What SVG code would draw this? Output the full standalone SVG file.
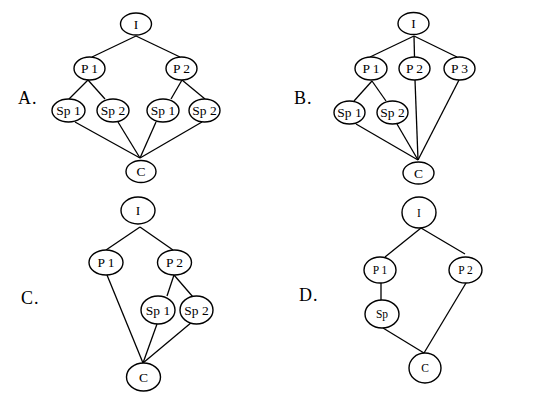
<svg xmlns="http://www.w3.org/2000/svg" width="544" height="403" viewBox="0 0 544 403">
<style>
.n ellipse{fill:#fff;stroke:#000;stroke-width:1.4}
.n text{font-family:"Liberation Serif","Times New Roman",serif;font-size:13.5px;text-anchor:middle;fill:#000}
.d text{font-size:11.5px}
.e line{stroke:#000;stroke-width:1.3}
.lab{font-family:"Liberation Serif","Times New Roman",serif;font-size:18px;fill:#000;letter-spacing:1px}
</style>
<rect width="544" height="403" fill="#fff"/>
<g id="connectors" class="e">
<!-- A -->
<line x1="136" y1="36" x2="92" y2="57"/>
<line x1="136" y1="36" x2="180" y2="57"/>
<line x1="88" y1="80" x2="69" y2="99"/>
<line x1="88" y1="80" x2="105" y2="99"/>
<line x1="182" y1="80" x2="171" y2="99"/>
<line x1="182" y1="80" x2="205" y2="99"/>
<line x1="75" y1="122" x2="140" y2="158"/>
<line x1="118" y1="122" x2="140" y2="158"/>
<line x1="156" y1="122" x2="140" y2="158"/>
<line x1="202" y1="122" x2="140" y2="158"/>
<!-- B -->
<line x1="414" y1="36" x2="370" y2="57"/>
<line x1="414" y1="36" x2="414.5" y2="57"/>
<line x1="414" y1="36" x2="457" y2="57"/>
<line x1="372" y1="81" x2="354" y2="101"/>
<line x1="372" y1="81" x2="386" y2="101"/>
<line x1="356" y1="124" x2="418" y2="160"/>
<line x1="397" y1="124" x2="418" y2="160"/>
<line x1="415" y1="80" x2="418" y2="160"/>
<line x1="459" y1="80" x2="418" y2="160"/>
<!-- C -->
<line x1="140" y1="227" x2="106" y2="250"/>
<line x1="140" y1="227" x2="173" y2="250"/>
<line x1="107" y1="275" x2="143" y2="363"/>
<line x1="174" y1="275" x2="167" y2="296"/>
<line x1="174" y1="275" x2="193" y2="297"/>
<line x1="157" y1="324" x2="143" y2="363"/>
<line x1="192" y1="322" x2="143" y2="363"/>
<!-- D -->
<line x1="421" y1="228" x2="385" y2="257"/>
<line x1="421" y1="228" x2="465" y2="254"/>
<line x1="381" y1="283" x2="381" y2="300"/>
<line x1="383" y1="328" x2="424" y2="353"/>
<line x1="466" y1="283" x2="424" y2="353"/>
</g>
<text class="lab" x="18" y="104">A.</text>
<text class="lab" x="294" y="104">B.</text>
<text class="lab" x="21" y="304">C.</text>
<text class="lab" x="299" y="301">D.</text>
<!-- Panel A -->
<g id="A_I" class="n"><ellipse cx="136" cy="24" rx="15.5" ry="11"/><text x="136" y="28.5">I</text></g>
<g id="A_P1" class="n"><ellipse cx="89.5" cy="68.5" rx="15.5" ry="11.5"/><text x="89.5" y="73">P 1</text></g>
<g id="A_P2" class="n"><ellipse cx="181.5" cy="68.5" rx="15.5" ry="11.5"/><text x="181.5" y="73">P 2</text></g>
<g id="A_Sp1a" class="n"><ellipse cx="68.5" cy="110.5" rx="16.5" ry="11.5"/><text x="68.5" y="115">Sp 1</text></g>
<g id="A_Sp2a" class="n"><ellipse cx="113" cy="110.5" rx="16" ry="11.5"/><text x="113" y="115">Sp 2</text></g>
<g id="A_Sp1b" class="n"><ellipse cx="163" cy="110.5" rx="16" ry="11.5"/><text x="163" y="115">Sp 1</text></g>
<g id="A_Sp2b" class="n"><ellipse cx="204.5" cy="110.5" rx="15.5" ry="11.5"/><text x="204.5" y="115">Sp 2</text></g>
<g id="A_C" class="n"><ellipse cx="141" cy="171.5" rx="15" ry="11"/><text x="141" y="176">C</text></g>
<!-- Panel B -->
<g id="B_I" class="n"><ellipse cx="413.5" cy="23.5" rx="15.5" ry="11"/><text x="413.5" y="28">I</text></g>
<g id="B_P1" class="n"><ellipse cx="371" cy="68.5" rx="16" ry="11.5"/><text x="371" y="73">P 1</text></g>
<g id="B_P2" class="n"><ellipse cx="414.5" cy="68.5" rx="15.5" ry="11.5"/><text x="414.5" y="73">P 2</text></g>
<g id="B_P3" class="n"><ellipse cx="459.5" cy="68.5" rx="15.5" ry="11.5"/><text x="459.5" y="73">P 3</text></g>
<g id="B_Sp1" class="n"><ellipse cx="349.5" cy="112.5" rx="15.5" ry="11.5"/><text x="349.5" y="117">Sp 1</text></g>
<g id="B_Sp2" class="n"><ellipse cx="392.5" cy="112.5" rx="15.5" ry="11.5"/><text x="392.5" y="117">Sp 2</text></g>
<g id="B_C" class="n"><ellipse cx="418.5" cy="173" rx="15.5" ry="11"/><text x="418.5" y="177.5">C</text></g>
<!-- Panel C -->
<g id="C_I" class="n"><ellipse cx="138" cy="210.5" rx="17" ry="13.5"/><text x="138" y="215">I</text></g>
<g id="C_P1" class="n"><ellipse cx="106" cy="262.5" rx="17" ry="12.5"/><text x="106" y="267">P 1</text></g>
<g id="C_P2" class="n"><ellipse cx="174.5" cy="262.5" rx="17" ry="12.5"/><text x="174.5" y="267">P 2</text></g>
<g id="C_Sp1" class="n"><ellipse cx="158" cy="310" rx="17" ry="14"/><text x="158" y="314.5">Sp 1</text></g>
<g id="C_Sp2" class="n"><ellipse cx="196.5" cy="310" rx="16.5" ry="14"/><text x="196.5" y="314.5">Sp 2</text></g>
<g id="C_C" class="n"><ellipse cx="143.5" cy="377" rx="17" ry="14"/><text x="143.5" y="381.5">C</text></g>
<!-- Panel D -->
<g id="D_I" class="n d"><ellipse cx="419" cy="212.5" rx="17" ry="15.5"/><text x="419" y="216.5">I</text></g>
<g id="D_P1" class="n d"><ellipse cx="380" cy="270" rx="16" ry="13"/><text x="380" y="274">P 1</text></g>
<g id="D_P2" class="n d"><ellipse cx="465.5" cy="270" rx="16.5" ry="13"/><text x="465.5" y="274">P 2</text></g>
<g id="D_Sp" class="n d"><ellipse cx="382" cy="314" rx="17" ry="14"/><text x="382" y="318">Sp</text></g>
<g id="D_C" class="n d"><ellipse cx="425" cy="368" rx="16" ry="15"/><text x="425" y="372">C</text></g>
</svg>
